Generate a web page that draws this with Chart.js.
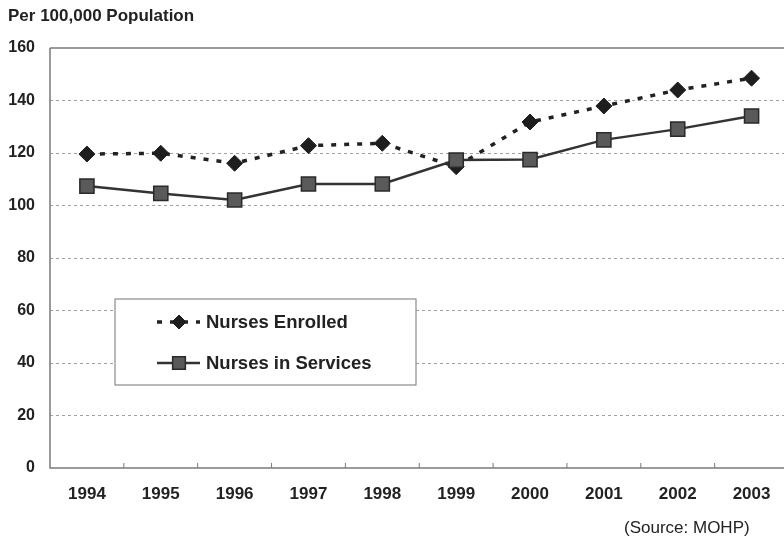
<!DOCTYPE html>
<html>
<head>
<meta charset="utf-8">
<script src="https://cdn.jsdelivr.net/npm/chart.js@4.4.1/dist/chart.umd.min.js"></script>
<style>
  html, body { margin: 0; padding: 0; background: #fff; }
  #wrap { position: relative; width: 784px; height: 536px; overflow: hidden; font-family: "Liberation Sans", Arial, sans-serif; }
  #chart { position: absolute; left: 0; top: 0; }
  .note { position: absolute; color: #222; white-space: nowrap; }
  #title { left: 8px; top: 6px; font-size: 17px; font-weight: bold; }
  #source { left: 624px; top: 518px; font-size: 17px; }
</style>
</head>
<body>
<div id="wrap">
  <canvas id="chart" width="800" height="536"></canvas>
  <div class="note" id="title">Per 100,000 Population</div>
  <div class="note" id="source">(Source: MOHP)</div>
</div>
<script>
const years = ['1994', '1995', '1996', '1997', '1998', '1999', '2000', '2001', '2002', '2003'];
const nursesEnrolled = [119.6, 119.9, 116.1, 122.8, 123.7, 114.8, 131.8, 137.9, 144.0, 148.5];
const nursesInServices = [107.4, 104.6, 102.1, 108.2, 108.2, 117.3, 117.5, 125.0, 129.1, 134.1];
const yTicks = [0, 20, 40, 60, 80, 100, 120, 140, 160];

const axisColor = '#7a7a7a';

// frame lines + small inner tick marks on the x axis
const framePlugin = {
  id: 'frame',
  beforeDatasetsDraw(chart) {
    const { ctx, chartArea: a, scales: { x, y } } = chart;
    const top = y.getPixelForValue(160);
    const bottom = y.getPixelForValue(0);
    ctx.save();
    ctx.strokeStyle = axisColor;
    ctx.lineWidth = 1.5;
    ctx.beginPath();
    ctx.moveTo(a.left, top);
    ctx.lineTo(a.right + 20, top);
    ctx.moveTo(a.left, top);
    ctx.lineTo(a.left, bottom);
    ctx.lineTo(a.right + 20, bottom);
    ctx.stroke();
    ctx.lineWidth = 1;
    ctx.beginPath();
    for (let i = 0; i < years.length - 1; i++) {
      const px = (x.getPixelForValue(i) + x.getPixelForValue(i + 1)) / 2;
      ctx.moveTo(px, bottom);
      ctx.lineTo(px, bottom - 5);
    }
    ctx.stroke();
    ctx.restore();
  }
};

// boxed legend inside the plot area
const boxLegend = {
  id: 'boxLegend',
  afterDraw(chart) {
    const { ctx } = chart;
    const box = { x: 115, y: 299, w: 301, h: 86 };
    ctx.save();
    ctx.fillStyle = '#fff';
    ctx.fillRect(box.x, box.y, box.w, box.h);
    ctx.strokeStyle = '#8a8a8a';
    ctx.lineWidth = 1.2;
    ctx.strokeRect(box.x, box.y, box.w, box.h);
    chart.data.datasets.forEach((ds, i) => {
      const cy = 322 + i * 41;
      const x0 = 157, x1 = 200, xm = 179;
      ctx.strokeStyle = ds.borderColor;
      ctx.lineWidth = ds.borderWidth;
      ctx.setLineDash(ds.borderDash || []);
      ctx.beginPath();
      ctx.moveTo(x0, cy);
      ctx.lineTo(x1, cy);
      ctx.stroke();
      ctx.setLineDash([]);
      ctx.fillStyle = ds.pointBackgroundColor;
      ctx.strokeStyle = ds.pointBorderColor;
      ctx.lineWidth = ds.pointBorderWidth;
      ctx.beginPath();
      Chart.helpers.drawPoint(ctx, {
        pointStyle: ds.pointStyle,
        radius: ds.pointRadius - 1,
        borderWidth: ds.pointBorderWidth,
        rotation: 0
      }, xm, cy);
      ctx.fillStyle = '#222';
      ctx.font = 'bold 18.5px "Liberation Sans", Arial, sans-serif';
      ctx.textBaseline = 'middle';
      ctx.fillText(ds.label, 206, cy + 1);
    });
    ctx.restore();
  }
};

new Chart(document.getElementById('chart'), {
  type: 'line',
  data: {
    labels: years,
    datasets: [
      {
        label: 'Nurses Enrolled',
        data: nursesEnrolled,
        borderColor: '#222',
        borderWidth: 3.5,
        borderDash: [5, 8],
        pointStyle: 'rectRot',
        pointRadius: 8,
        pointBackgroundColor: '#1e1e1e',
        pointBorderColor: '#1e1e1e',
        pointBorderWidth: 1,
        tension: 0,
        order: 1
      },
      {
        label: 'Nurses in Services',
        data: nursesInServices,
        borderColor: '#333',
        borderWidth: 2.5,
        pointStyle: 'rect',
        pointRadius: 10,
        pointBackgroundColor: '#5a5a5a',
        pointBorderColor: '#2a2a2a',
        pointBorderWidth: 1.5,
        tension: 0,
        order: 0
      }
    ]
  },
  options: {
    responsive: false,
    animation: false,
    layout: { padding: { top: 48, right: 8, left: 0, bottom: 0 } },
    plugins: {
      legend: { display: false },
      tooltip: { enabled: false }
    },
    scales: {
      x: {
        offset: true,
        grid: { display: false },
        border: { display: false },
        ticks: {
          color: '#222',
          padding: 8,
          font: { family: '"Liberation Sans", Arial, sans-serif', size: 17, weight: 'bold' }
        },
        afterFit(scale) { scale.height = 68; }
      },
      y: {
        min: 0,
        max: 160,
        afterBuildTicks(scale) { scale.ticks = yTicks.map(v => ({ value: v })); },
        grid: {
          drawTicks: false,
          color: c => (c.tick.value === 0 || c.tick.value === 160) ? 'rgba(0,0,0,0)' : '#a0a0a0',
          lineWidth: 1
        },
        border: { display: false, dash: [3, 3] },
        ticks: {
          color: '#222',
          padding: 15,
          font: { family: '"Liberation Sans", Arial, sans-serif', size: 16, weight: 'bold' }
        },
        afterFit(scale) { scale.width = 50; }
      }
    }
  },
  plugins: [framePlugin, boxLegend]
});
</script>
</body>
</html>
